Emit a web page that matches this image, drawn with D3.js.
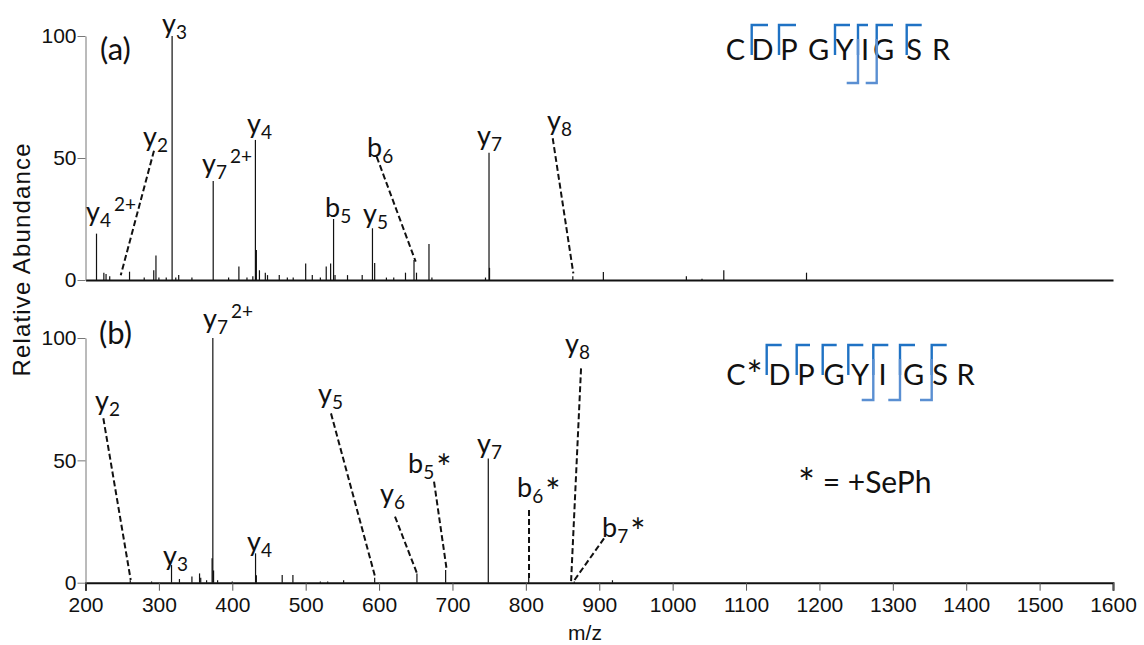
<!DOCTYPE html>
<html>
<head>
<meta charset="utf-8">
<script src="https://cdn.jsdelivr.net/npm/d3@7"></script>
<style>
  body { margin: 0; background: #fff; }
  svg { display: block; }
</style>
</head>
<body>
<svg id="chart" width="1144" height="645"></svg>
<script>
// ---- axis ticks ----
const mzTicks = [200, 300, 400, 500, 600, 700, 800, 900, 1000, 1100, 1200, 1300, 1400, 1500, 1600];
const abundanceTicks = [0, 50, 100];

// ---- panel (a): CDPGYIGSR, centroided peaks [m/z, relative abundance %] ----
const peaksA = [
  [215, 19], [225, 3], [228, 2.5], [233, 1.5], [260, 3.4], [280, 1], [293, 4], [296, 10],
  [300, 1], [310, 1], [318, 100], [323, 1], [327, 2], [345, 1], [374, 40.6], [395, 1],
  [409, 5.5], [420, 1], [428, 1.5], [431.5, 57.4], [432.8, 12.3], [437, 4], [445, 3],
  [448, 2], [464, 2], [475, 1], [483, 1], [500, 6.8], [509, 2], [520, 1], [528, 5.5],
  [534, 6.8], [538, 25], [540, 2], [557, 2], [577, 2], [591, 21.2], [594, 7], [610, 1],
  [620, 1], [636, 3], [647.6, 8.2], [651, 3], [668, 14.8], [672, 1], [745, 1],
  [749.8, 52.2], [750.5, 5], [864, 1.5], [905.6, 3.3], [1018.7, 1.5], [1040, 0.5],
  [1069.7, 4], [1182.4, 3]
];

// ---- panel (b): C*DPGYIGSR (SePh-labelled) ----
const peaksB = [
  [261, 1], [290, 0.5], [317.2, 7.2], [328, 1.5], [345, 2.5], [355.4, 3.8], [357, 2],
  [365, 1], [372.5, 10], [373.5, 100], [374.5, 5], [380, 1], [400, 0.5], [431.7, 12],
  [432.8, 3], [468, 3.1], [482.6, 3.1], [520, 0.5], [530, 0.5], [551.7, 1], [594, 2],
  [651.6, 3.8], [690.7, 5.2], [748.8, 50.8], [803.9, 2], [866, 0.5], [918, 1]
];

// ---- panel tags, anchored at (m/z, abundance) ----
const tagA = { text: "(a)", mz: 219.8, ab: 90.2 };
const tagB = { text: "(b)", mz: 218.4, ab: 97.5 };

// ---- fragment labels: ion letter, subscript, superscript, suffix; anchored at (m/z, abundance) ----
const labelsA = [
  { ion: "y", sub: "4", sup: "2+", mz: 200.7, ab: 24.2 },
  { ion: "y", sub: "2", mz: 278.3, ab: 54.9 },
  { ion: "y", sub: "3", mz: 304.2, ab: 101.2 },
  { ion: "y", sub: "7", sup: "2+", mz: 358.7, ab: 43.9 },
  { ion: "y", sub: "4", mz: 420, ab: 60.2 },
  { ion: "b", sub: "5", mz: 526.4, ab: 25.8 },
  { ion: "y", sub: "5", mz: 578.1, ab: 23.4 },
  { ion: "b", sub: "6", mz: 583.6, ab: 50.4 },
  { ion: "y", sub: "7", mz: 733.4, ab: 55.3 },
  { ion: "y", sub: "8", mz: 828.8, ab: 61.5 }
];
const labelsB = [
  { ion: "y", sub: "2", mz: 212.9, ab: 70.6 },
  { ion: "y", sub: "3", mz: 305.6, ab: 7.2 },
  { ion: "y", sub: "7", sup: "2+", mz: 360.1, ab: 104.1 },
  { ion: "y", sub: "4", mz: 420, ab: 13 },
  { ion: "y", sub: "5", mz: 516.8, ab: 73.5 },
  { ion: "y", sub: "6", mz: 601.3, ab: 32.6 },
  { ion: "b", sub: "5", suffix: "*", mz: 639.5, ab: 44.8 },
  { ion: "y", sub: "7", mz: 733.4, ab: 53 },
  { ion: "b", sub: "6", suffix: "*", mz: 788, ab: 35 },
  { ion: "y", sub: "8", mz: 853.3, ab: 93.9 },
  { ion: "b", sub: "7", suffix: "*", mz: 903.8, ab: 18.7 }
];

// ---- dashed leader lines [m/z1, ab1, m/z2, ab2] ----
const leadersA = [
  [293.3, 53.0, 248, 1.9],
  [596.8, 50.5, 649.9, 7.5],
  [836.6, 58.1, 864.7, 2.7]
];
const leadersB = [
  [224.3, 67.2, 261.6, 1.1],
  [534.5, 69.2, 594.5, 2.5],
  [621.7, 27, 651.3, 4.1],
  [674.9, 41.3, 692.2, 5.2],
  [804.3, 29.7, 804.3, 1.9],
  [875.2, 87.6, 861.6, 0.4],
  [906.5, 18.1, 865.6, 0.8]
];

// ---- peptide sequences with fragment cleavage marks ----
const seqA = ["C", "D", "P", "G", "Y", "I", "G", "S", "R"];
const seqB = ["C", "*", "D", "P", "G", "Y", "I", "G", "S", "R"];

// ---------------------------------------------------------------
const svg = d3.select("#chart");
const labelFont = "Lato, 'Open Sans', sans-serif";
const axisFont = "'Liberation Sans', Arial, sans-serif";
const ink = "#111";

const x = d3.scaleLinear().domain([200, 1600]).range([85.5, 1113]);
const yA = d3.scaleLinear().domain([0, 100]).range([280, 36]);
const yB = d3.scaleLinear().domain([0, 100]).range([582.7, 338]);

function drawPanel(y, peaks, tag, labels, leaders, showTicks) {
  const g = svg.append("g");

  // peaks
  g.append("g").selectAll("line").data(peaks).join("line")
    .attr("x1", d => x(d[0])).attr("x2", d => x(d[0]))
    .attr("y1", y(0)).attr("y2", d => y(d[1]))
    .attr("stroke", ink).attr("stroke-width", 1.2);

  // x axis
  const xAxis = d3.axisBottom(x).tickSizeOuter(0);
  if (showTicks) xAxis.tickValues(mzTicks).tickSize(8).tickPadding(6).tickFormat(d3.format("d"));
  else xAxis.tickValues([]);
  const gx = g.append("g").attr("transform", `translate(0,${y(0)})`).call(xAxis);
  gx.select(".domain").attr("stroke", ink).attr("stroke-width", 2);
  gx.selectAll(".tick line").attr("stroke", "#555");
  gx.selectAll(".tick text").attr("font-family", axisFont).attr("font-size", 21).attr("fill", ink);

  // y axis
  const gy = g.append("g").attr("transform", `translate(${x(200)},0)`)
    .call(d3.axisLeft(y).tickValues(abundanceTicks).tickSize(8).tickPadding(1).tickSizeOuter(0));
  gy.select(".domain").attr("stroke", "#777").attr("stroke-width", 1);
  gy.selectAll(".tick line").attr("stroke", "#777");
  gy.selectAll(".tick text").attr("font-family", axisFont).attr("font-size", 21).attr("fill", ink);

  // leader lines
  g.append("g").selectAll("line").data(leaders).join("line")
    .attr("x1", d => x(d[0])).attr("y1", d => y(d[1]))
    .attr("x2", d => x(d[2])).attr("y2", d => y(d[3]))
    .attr("stroke", ink).attr("stroke-width", 2).attr("stroke-dasharray", "6,3");

  // panel tag
  g.append("text").attr("x", x(tag.mz)).attr("y", y(tag.ab))
    .attr("font-family", labelFont).attr("font-size", 31).attr("fill", ink)
    .text(tag.text);

  // fragment labels
  const t = g.append("g").selectAll("text").data(labels).join("text")
    .attr("x", d => x(d.mz)).attr("y", d => y(d.ab))
    .attr("font-family", labelFont).attr("font-size", 27).attr("fill", ink);
  t.each(function (d) {
    const el = d3.select(this);
    el.append("tspan").text(d.ion);
    if (d.sub) el.append("tspan").attr("font-size", 19).attr("dy", 6).text(d.sub);
    if (d.sup) el.append("tspan").attr("font-size", 19).attr("dx", 3).attr("dy", -16).text(d.sup);
    if (d.suffix) el.append("tspan").attr("font-size", 36).attr("dx", 2).attr("dy", 2).text(d.suffix);
  });
}

drawPanel(yA, peaksA, tagA, labelsA, leadersA, false);
drawPanel(yB, peaksB, tagB, labelsB, leadersB, true);

// axis titles
svg.append("text")
  .attr("transform", "translate(30,260) rotate(-90)")
  .attr("text-anchor", "middle")
  .attr("font-family", axisFont).attr("font-size", 24).attr("fill", ink)
  .attr("textLength", 233).attr("lengthAdjust", "spacing")
  .text("Relative Abundance");
svg.append("text")
  .attr("x", 585).attr("y", 640).attr("text-anchor", "middle")
  .attr("font-family", axisFont).attr("font-size", 21).attr("fill", ink)
  .text("m/z");

// peptide sequence with cleavage brackets
const bColor = "#1f72c4", yColor = "#5a8fd2";
function drawSequence(letters, centers, baseline, topY, stemBottom, bMarks, yMarks, yBottom) {
  const g = svg.append("g");
  g.selectAll("text").data(letters).join("text")
    .attr("x", (d, i) => centers[i]).attr("y", d => d === "*" ? baseline + 4 : baseline)
    .attr("text-anchor", "middle")
    .attr("font-family", labelFont).attr("font-size", d => d === "*" ? 38 : 29).attr("fill", ink)
    .text(d => d);
  // b-ion marks: stem with a cap pointing right (N-terminal fragments)
  g.selectAll("path.b").data(bMarks).join("path").attr("class", "b")
    .attr("d", d => `M${d[0]},${stemBottom}V${topY}H${d[1]}`)
    .attr("fill", "none").attr("stroke", bColor).attr("stroke-width", 2.4);
  // y-ion marks: stem with a foot pointing left (C-terminal fragments)
  g.selectAll("path.y").data(yMarks).join("path").attr("class", "y")
    .attr("d", d => `M${d[0]},${topY + 14}V${yBottom}H${d[1]}`)
    .attr("fill", "none").attr("stroke", yColor).attr("stroke-width", 2.4);
}

drawSequence(seqA,
  [735.5, 762.5, 789, 818.5, 844.5, 865, 883.5, 914, 941], 60, 25, 55,
  [[751.7, 768], [779, 796], [835, 850], [858, 868], [876.7, 893], [906.7, 921.7]],
  [[858, 846.7], [876.7, 865.7]], 83);

drawSequence(seqB,
  [736, 754.5, 779.5, 806, 834, 860, 882.5, 913.5, 940, 965.5], 385, 345, 375,
  [[766.7, 781.7], [796.7, 810], [822.7, 836.7], [848.3, 863.3], [873.3, 888.3], [900, 915], [931.7, 946.7]],
  [[873.3, 861.7], [900, 888.3], [931.7, 920]], 400);

const note = svg.append("text")
  .attr("x", 798).attr("y", 493)
  .attr("font-family", labelFont).attr("font-size", 30).attr("fill", ink);
note.append("tspan").attr("font-size", 40).attr("dy", 5).text("*");
note.append("tspan").attr("dy", -5).text(" = +SePh");
</script>
</body>
</html>
